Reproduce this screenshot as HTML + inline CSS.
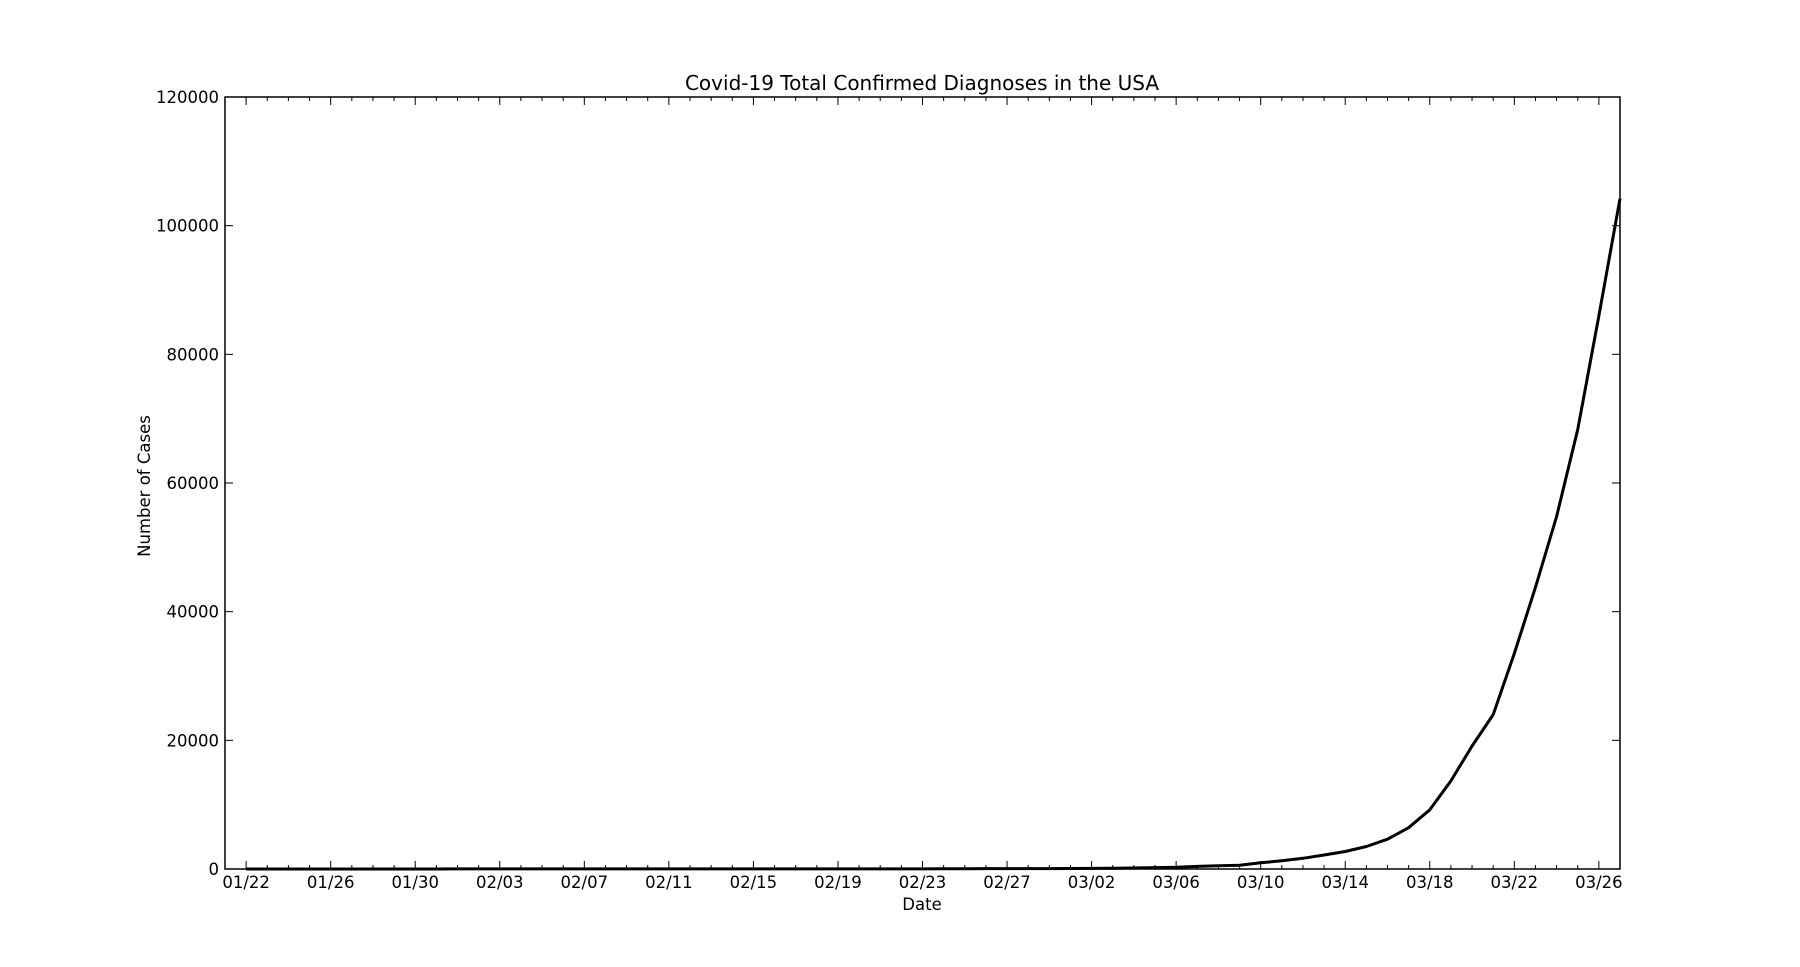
<!DOCTYPE html>
<html><head><meta charset="utf-8">
<style>
html,body{margin:0;padding:0;background:#fff;}
svg{display:block;font-family:"DejaVu Sans","Liberation Sans",sans-serif;}
</style></head>
<body>
<svg id="chart" width="1800" height="967" viewBox="0 0 1800 967" xmlns="http://www.w3.org/2000/svg">
<rect width="1800" height="967" fill="#fff"/>
<g id="plot"></g>
<text x="922" y="90" font-size="20" text-anchor="middle">Covid-19 Total Confirmed Diagnoses in the USA</text>
<text x="922" y="910" font-size="16.5" text-anchor="middle">Date</text>
<text transform="translate(150,486) rotate(-90)" font-size="16.5" text-anchor="middle">Number of Cases</text>
</svg>
<script>
const dayLabels = ["01/22","01/26","01/30","02/03","02/07","02/11","02/15","02/19","02/23","02/27","03/02","03/06","03/10","03/14","03/18","03/22","03/26"];
const yTicks = [0,20000,40000,60000,80000,100000,120000];
// cases per day starting 01/22 (day index 1 from 01/21)
const cases = [1,1,2,2,5,5,5,5,5,7,8,8,11,11,11,11,11,11,11,11,12,12,13,13,13,13,13,13,13,13,15,15,15,51,51,57,58,60,68,74,98,118,149,217,262,402,518,583,959,1281,1663,2179,2727,3499,4632,6421,9200,13700,19100,24000,33500,43800,54800,68300,86000,104200];
const L=225,R=1620,T=97,B=869,xMin=0,xMax=66,yMax=120000;
const xs=d=>L+(d-xMin)/(xMax-xMin)*(R-L);
const ys=v=>B-v/yMax*(B-T);
const NS="http://www.w3.org/2000/svg";
const g=document.getElementById('plot');
function mk(tag,attrs){const e=document.createElementNS(NS,tag);for(const k in attrs)e.setAttribute(k,attrs[k]);g.appendChild(e);return e;}
for(let d=1;d<xMax;d++){
  const x=xs(d);const major=(d-1)%4===0;const len=major?8:4;
  const t1=mk('line',{x1:x,x2:x,y1:B,y2:B-len,stroke:'#000','stroke-width':1});
  
  
  const t2=mk('line',{x1:x,x2:x,y1:T,y2:T+len,stroke:'#000','stroke-width':1});
  
  
}
dayLabels.forEach((lab,i)=>{
  const t=mk('text',{x:xs(1+i*4),y:B+19,'font-size':16.5,'text-anchor':'middle'});
  t.textContent=lab;
  
  
});
yTicks.forEach(v=>{
  const y=ys(v);
  const a=mk('line',{x1:L,x2:L+8,y1:y,y2:y,stroke:'#000','stroke-width':1});
  
  
  const b=mk('line',{x1:R,x2:R-8,y1:y,y2:y,stroke:'#000','stroke-width':1});
  
  
  const t=mk('text',{x:L-6,y:y+6,'font-size':16.5,'text-anchor':'end'});
  t.textContent=String(v);
  
  
});
const pts=cases.map((v,i)=>xs(i+1).toFixed(1)+','+ys(v).toFixed(1)).join(' ');
const line=mk('polyline',{points:pts,fill:'none',stroke:'#000','stroke-width':3,'stroke-linejoin':'round'});


const frame=mk('rect',{x:L,y:T,width:R-L,height:B-T,fill:'none',stroke:'#000','stroke-width':1.5});


</script>
</body></html>
